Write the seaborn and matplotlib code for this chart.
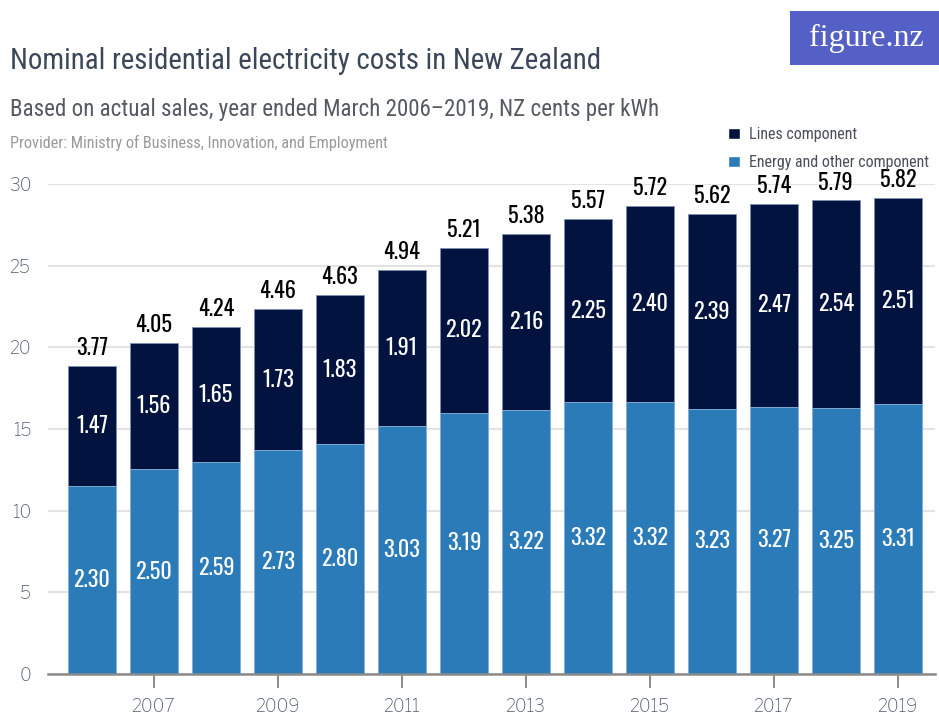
import numpy as np
import pandas as pd
import matplotlib
matplotlib.use("Agg")
import matplotlib.pyplot as plt
import seaborn as sns
from matplotlib.patches import Patch, FancyBboxPatch

# Datos
anios = [str(a) for a in range(2006, 2020)]
energia = [11.53, 12.54, 13.00, 13.70, 14.08, 15.20, 16.00, 16.17, 16.64, 16.68, 16.23, 16.37, 16.31, 16.55]
lineas = [7.35, 7.75, 8.23, 8.63, 9.12, 9.54, 10.09, 10.77, 11.24, 11.96, 11.94, 12.41, 12.69, 12.58]

# Etiquetas tal como aparecen en el gráfico
etq_energia = ["2.30", "2.50", "2.59", "2.73", "2.80", "3.03", "3.19", "3.22", "3.32", "3.32", "3.23", "3.27", "3.25", "3.31"]
etq_lineas = ["1.47", "1.56", "1.65", "1.73", "1.83", "1.91", "2.02", "2.16", "2.25", "2.40", "2.39", "2.47", "2.54", "2.51"]
etq_total = ["3.77", "4.05", "4.24", "4.46", "4.63", "4.94", "5.21", "5.38", "5.57", "5.72", "5.62", "5.74", "5.79", "5.82"]

ticks_x = ["2007", "2009", "2011", "2013", "2015", "2017", "2019"]

df = pd.DataFrame({"Año": anios, "Energia": energia, "Lineas": lineas})
df["Total"] = df["Energia"] + df["Lineas"]

sns.set_theme(style="white")
plt.rcParams["font.family"] = ["Roboto Condensed", "DejaVu Sans"]

col_lineas = "#03133f"
col_energia = "#2b7bb9"
fuente_num = ["Oswald", "DejaVu Sans"]
fuente_ejes = ["Libre Franklin", "DejaVu Sans"]

fig = plt.figure(figsize=(9.39, 7.13), dpi=100)
ax = fig.add_axes([0.0511, 0.0547, 0.9446, 0.687])

sns.barplot(data=df, x="Año", y="Total", color=col_lineas, width=0.78, saturation=1,
            edgecolor="#8090b0", linewidth=0.6, ax=ax)
sns.barplot(data=df, x="Año", y="Energia", color=col_energia, width=0.78, saturation=1,
            edgecolor="#8fb8dc", linewidth=0.6, ax=ax)

ax.set_xlim(-0.71, 13.6)
ax.set_ylim(0, 30)
ax.set_yticks([0, 5, 10, 15, 20, 25, 30])
ax.grid(axis="y", color="#e3e3e3", linewidth=1.5)
ax.set_axisbelow(True)
for s in ["top", "right", "left"]:
    ax.spines[s].set_visible(False)
ax.spines["bottom"].set_color("#8a8a8a")
ax.spines["bottom"].set_linewidth(1.8)

pos = [anios.index(t) for t in ticks_x]
ax.set_xticks(pos)
ax.set_xticklabels(ticks_x)
ax.tick_params(axis="x", length=10, width=1.2, color="#777777", pad=7,
               labelsize=12.5, labelcolor="#4f5a70", bottom=True)
ax.tick_params(axis="y", length=0, pad=12, labelsize=12.5, labelcolor="#4f5a70")
for lab in ax.get_xticklabels() + ax.get_yticklabels():
    lab.set_family(fuente_ejes)
ax.set_xlabel("")
ax.set_ylabel("")

# Etiquetas de las barras
for i in range(len(anios)):
    e = df["Energia"][i]
    t = df["Total"][i]
    ax.text(i, e / 2, etq_energia[i], ha="center", va="center", color="white",
            fontsize=16, family=fuente_num, fontweight="semibold")
    ax.text(i, e + (t - e) / 2, etq_lineas[i], ha="center", va="center", color="white",
            fontsize=16, family=fuente_num, fontweight="semibold")
    ax.annotate(etq_total[i], (i, t), xytext=(0, 5), textcoords="offset points",
                ha="center", va="bottom", color="black", fontsize=16, family=fuente_num,
                fontweight="semibold")

# Títulos
fig.text(0.011, 0.915, "Nominal residential electricity costs in New Zealand",
         fontsize=20.8, color="#3b4658", va="center")
fig.text(0.011, 0.846, "Based on actual sales, year ended March 2006–2019, NZ cents per kWh",
         fontsize=16.6, color="#555a62", va="center")
fig.text(0.011, 0.799, "Provider: Ministry of Business, Innovation, and Employment",
         fontsize=11.7, color="#9a9a9a", va="center")

# Logo
logo = FancyBboxPatch((790 / 939, 1 - 65 / 713), 149 / 939, 54 / 713,
                      boxstyle="square,pad=0", transform=fig.transFigure,
                      facecolor="#5560c6", edgecolor="none")
fig.patches.append(logo)
fig.text(866 / 939, 1 - 38 / 713, "figure.nz", fontsize=23, color="white",
         ha="center", va="center", family=["Liberation Serif", "DejaVu Serif"])

# Leyenda
handles = [Patch(facecolor=col_lineas, label="Lines component"),
           Patch(facecolor=col_energia, label="Energy and other component")]
fig.legend(handles=handles, loc="upper left", bbox_to_anchor=(714 / 939, 1 - 113 / 713),
           frameon=False, fontsize=11.5, handlelength=0.7, handleheight=0.7,
           handletextpad=0.6, labelspacing=0.8, labelcolor="#4a4f58")

fig.savefig("out.png", dpi=100)
